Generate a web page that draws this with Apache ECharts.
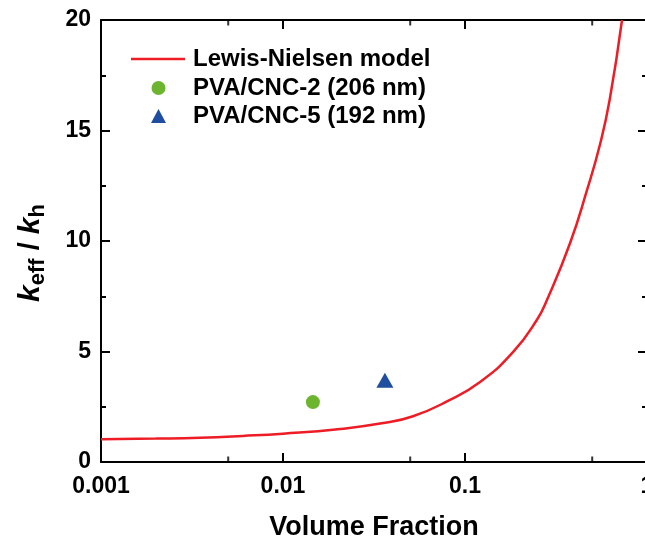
<!DOCTYPE html>
<html>
<head>
<meta charset="utf-8">
<script src="https://cdn.jsdelivr.net/npm/echarts@6/dist/echarts.min.js"></script>
<style>html,body{margin:0;padding:0;background:#fff}#c{width:645px;height:539px}</style>
</head>
<body>
<div id="c"></div>
<script>
// Lewis-Nielsen model curve
const modelX = [0.001, 0.002, 0.0035, 0.006, 0.01, 0.02, 0.0356, 0.0518, 0.0796, 0.121, 0.184, 0.249, 0.282, 0.378, 0.468, 0.553, 0.624, 0.729];
const modelY = [1.03, 1.06, 1.10, 1.18, 1.28, 1.48, 1.76, 2.07, 2.74, 3.62, 4.98, 6.45, 7.33, 9.91, 12.3, 14.4, 16.4, 20.0];
const cnc2X = [0.0146];
const cnc2Y = [2.71];
const cnc5X = [0.0363];
const cnc5Y = [3.70];
const xTickLabels = {0.001: '0.001', 0.01: '0.01', 0.1: '0.1', 1: '1'};
const xMinorTicks = [0.005, 0.05, 0.5];
const seriesNames = ['Lewis-Nielsen model', 'PVA/CNC-2 (206 nm)', 'PVA/CNC-5 (192 nm)'];

const FONT = 'Liberation Sans, Arial, Helvetica, sans-serif';
const RED = '#ee1c25', GREEN = '#6db52f', BLUE = '#1f4ea0';
const chart = echarts.init(document.getElementById('c'));
const zip = (a, b) => a.map((v, i) => [v, b[i]]);

const axisLine = {show: true, onZero: false, lineStyle: {color: '#000', width: 2}};
const xCommon = {
  type: 'log', logBase: 10, min: 0.001, max: 1,
  axisLine: axisLine,
  axisTick: {show: true, inside: true, length: 9, lineStyle: {color: '#000', width: 2}},
  splitLine: {show: false}
};
const yCommon = {
  type: 'value', min: 0, max: 20, interval: 5,
  axisLine: axisLine,
  axisTick: {show: true, inside: true, length: 9, lineStyle: {color: '#000', width: 2}},
  minorTick: {show: true, splitNumber: 2, length: 5, lineStyle: {color: '#000', width: 2}},
  splitLine: {show: false}, minorSplitLine: {show: false}
};
const legendText = {fontFamily: FONT, fontWeight: 'bold', fontSize: 24, color: '#000', lineHeight: 24};

chart.setOption({
  animation: false,
  textStyle: {fontFamily: FONT},
  grid: {left: 101, top: 20, width: 546, height: 442, containLabel: false, outerBoundsMode: 'none'},
  legend: [
    {
      data: [{name: seriesNames[0], icon: 'rect', itemStyle: {color: RED}}],
      orient: 'vertical', left: 126, top: 42,
      itemWidth: 54, itemHeight: 2.5, itemGap: 4,
      textStyle: Object.assign({padding: [0, 0, 0, 3]}, legendText),
      selectedMode: false
    },
    {
      data: [{name: seriesNames[1], icon: 'circle'}, {name: seriesNames[2], icon: 'triangle'}],
      orient: 'vertical', left: 146, top: 71,
      itemWidth: 15, itemHeight: 14, itemGap: 4,
      textStyle: Object.assign({padding: [0, 0, 0, 22]}, legendText),
      selectedMode: false
    }
  ],
  xAxis: [
    Object.assign({}, xCommon, {
      position: 'bottom',
      axisLabel: {
        show: true, margin: 13, color: '#000', fontFamily: FONT, fontWeight: 'bold', fontSize: 23,
        formatter: v => xTickLabels[+v.toPrecision(3)] || ''
      },
      name: 'Volume Fraction', nameLocation: 'middle', nameGap: 52,
      nameTextStyle: {fontFamily: FONT, fontWeight: 'bold', fontSize: 27, color: '#000'}
    }),
    Object.assign({}, xCommon, {position: 'top', axisLabel: {show: false}})
  ],
  yAxis: [
    Object.assign({}, yCommon, {
      position: 'left',
      axisLabel: {show: true, margin: 10, color: '#000', fontFamily: FONT, fontWeight: 'bold', fontSize: 23, padding: [4, 0, 0, 0]},
      name: '{k|k}{s|eff}{n| / }{k|k}{s|h}',
      nameLocation: 'middle', nameRotate: 90, nameGap: 52,
      nameTextStyle: {
        color: '#000', padding: [0, 24, 0, 0],
        rich: {
          k: {fontFamily: FONT, fontStyle: 'italic', fontWeight: 'bold', fontSize: 30, color: '#000'},
          s: {fontFamily: FONT, fontWeight: 'bold', fontSize: 22, color: '#000', padding: [14, 0, 0, 0]},
          n: {fontFamily: FONT, fontWeight: 'bold', fontSize: 29, color: '#000'}
        }
      }
    }),
    Object.assign({}, yCommon, {position: 'right', axisLabel: {show: false}})
  ],
  series: [
    {
      name: seriesNames[0], type: 'line', smooth: 0.5, symbol: 'none',
      data: zip(modelX, modelY),
      lineStyle: {color: RED, width: 2.5}, itemStyle: {color: RED},
      clip: true, z: 3
    },
    {
      name: seriesNames[1], type: 'scatter', symbol: 'circle', symbolSize: 14,
      data: zip(cnc2X, cnc2Y), itemStyle: {color: GREEN, opacity: 1}, z: 4
    },
    {
      name: seriesNames[2], type: 'scatter', symbol: 'triangle', symbolSize: [17, 15],
      data: zip(cnc5X, cnc5Y), itemStyle: {color: BLUE, opacity: 1}, z: 4
    },
    {
      name: 'minorBottom', type: 'scatter', xAxisIndex: 0, yAxisIndex: 0, silent: true,
      symbol: 'rect', symbolSize: [2, 5], symbolOffset: [0, -3],
      data: xMinorTicks.map(v => [v, 0]), itemStyle: {color: '#000'}, clip: false, z: 5
    },
    {
      name: 'minorTop', type: 'scatter', xAxisIndex: 0, yAxisIndex: 0, silent: true,
      symbol: 'rect', symbolSize: [2, 5], symbolOffset: [0, 3],
      data: xMinorTicks.map(v => [v, 20]), itemStyle: {color: '#000'}, clip: false, z: 5
    }
  ]
});
</script>
</body>
</html>
